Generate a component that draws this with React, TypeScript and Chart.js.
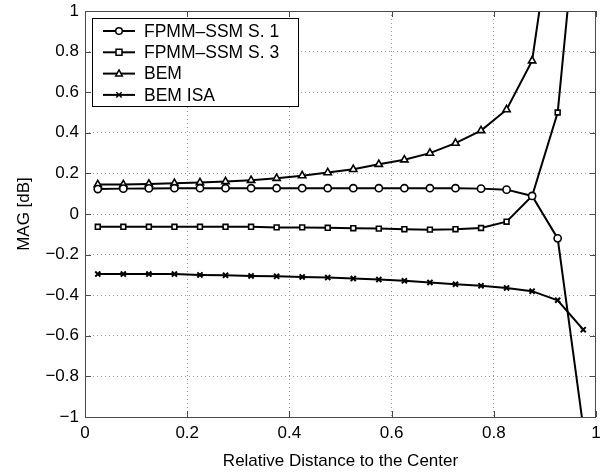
import React, { useEffect, useRef } from 'react';
import { Chart, registerables } from 'chart.js';

Chart.register(...registerables);

const xValues = [0.025, 0.075, 0.125, 0.175, 0.225, 0.275, 0.325, 0.375, 0.425, 0.475, 0.525, 0.575, 0.625, 0.675, 0.725, 0.775, 0.825, 0.875, 0.925, 0.975];

const fpmmS1 = [0.123, 0.125, 0.126, 0.127, 0.127, 0.127, 0.127, 0.127, 0.127, 0.127, 0.127, 0.127, 0.127, 0.127, 0.127, 0.125, 0.12, 0.089, -0.12, -1.05];
const fpmmS3 = [-0.063, -0.063, -0.063, -0.063, -0.063, -0.063, -0.063, -0.066, -0.066, -0.068, -0.07, -0.072, -0.075, -0.077, -0.075, -0.069, -0.038, 0.089, 0.5, 1.8];
const bem = [0.145, 0.145, 0.148, 0.151, 0.155, 0.16, 0.166, 0.176, 0.189, 0.204, 0.22, 0.245, 0.267, 0.3, 0.349, 0.411, 0.514, 0.755, 1.62, 3.0];
const bemIsa = [-0.296, -0.296, -0.296, -0.296, -0.3, -0.302, -0.305, -0.307, -0.31, -0.313, -0.318, -0.323, -0.329, -0.337, -0.346, -0.354, -0.364, -0.38, -0.425, -0.57];

const seriesLabels = ['FPMM\u2013SSM S. 1', 'FPMM\u2013SSM S. 3', 'BEM', 'BEM ISA'];
const xTitle = 'Relative Distance to the Center';
const yTitle = 'MAG [dB]';

const FONT = '"Liberation Sans", Arial, Helvetica, sans-serif';

function fmt(v: number): string {
  const r = Math.round(v * 10) / 10;
  const s = String(Math.abs(r) < 1e-9 ? 0 : r);
  return s.replace('-', '\u2212');
}

function drawMarker(ctx: CanvasRenderingContext2D, style: string, x: number, y: number, r: number) {
  ctx.beginPath();
  if (style === 'circle') {
    ctx.arc(x, y, r, 0, Math.PI * 2);
    ctx.fill();
    ctx.stroke();
  } else if (style === 'rect') {
    ctx.rect(x - r * 0.9, y - r * 0.9, r * 1.8, r * 1.8);
    ctx.fill();
    ctx.stroke();
  } else if (style === 'triangle') {
    ctx.moveTo(x, y - r * 1.1);
    ctx.lineTo(x + r, y + r * 0.7);
    ctx.lineTo(x - r, y + r * 0.7);
    ctx.closePath();
    ctx.fill();
    ctx.stroke();
  } else {
    const d = r * 0.8;
    ctx.moveTo(x - d, y - d);
    ctx.lineTo(x + d, y + d);
    ctx.moveTo(x + d, y - d);
    ctx.lineTo(x - d, y + d);
    ctx.stroke();
  }
}

const framePlugin = {
  id: 'frameAndLegend',
  afterDraw(chart: any) {
    const ctx: CanvasRenderingContext2D = chart.ctx;
    const { left, right, top, bottom } = chart.chartArea;
    const xs = chart.scales.x;
    const ys = chart.scales.y;
    ctx.save();
    // frame
    ctx.strokeStyle = '#4a4a4a';
    ctx.lineWidth = 1;
    ctx.strokeRect(Math.round(left) + 0.5, Math.round(top) + 0.5, Math.round(right - left) - 1, Math.round(bottom - top));
    // inner ticks
    const tl = 6;
    ctx.beginPath();
    xs.ticks.forEach((t: any) => {
      const px = Math.round(xs.getPixelForValue(t.value)) + 0.5;
      ctx.moveTo(px, bottom);
      ctx.lineTo(px, bottom - tl);
      ctx.moveTo(px, top);
      ctx.lineTo(px, top + tl);
    });
    ys.ticks.forEach((t: any) => {
      const py = Math.round(ys.getPixelForValue(t.value)) + 0.5;
      ctx.moveTo(left, py);
      ctx.lineTo(left + tl, py);
      ctx.moveTo(right, py);
      ctx.lineTo(right - tl, py);
    });
    ctx.stroke();

    // legend box
    const bx = 92.5, by = 18.5, bw = 206, bh = 88;
    ctx.fillStyle = '#fff';
    ctx.fillRect(bx, by, bw, bh);
    ctx.strokeStyle = '#000';
    ctx.lineWidth = 1;
    ctx.strokeRect(bx, by, bw, bh);
    const rowY0 = 31, rowStep = 21.3;
    ctx.font = `17.5px ${FONT}`;
    ctx.textBaseline = 'middle';
    ctx.textAlign = 'left';
    chart.data.datasets.forEach((ds: any, i: number) => {
      const y = rowY0 + i * rowStep;
      ctx.strokeStyle = '#000';
      ctx.lineWidth = 2;
      ctx.beginPath();
      ctx.moveTo(103, y);
      ctx.lineTo(135, y);
      ctx.stroke();
      ctx.fillStyle = '#fff';
      ctx.lineWidth = 1.5;
      drawMarker(ctx, ds.pointStyle, 119, y, 3.3);
      ctx.fillStyle = '#000';
      ctx.fillText(ds.label, 144, y + 1);
    });
    ctx.restore();
  },
};

export default function App() {
  const ref = useRef<HTMLCanvasElement>(null);

  useEffect(() => {
    if (!ref.current) return;
    const mk = (label: string, vals: number[], style: string, radius: number, pbw: number) => ({
      label,
      data: xValues.map((x, i) => ({ x, y: vals[i] })),
      borderColor: '#000',
      backgroundColor: '#fff',
      borderWidth: 2,
      pointStyle: style,
      pointRadius: radius,
      pointBorderWidth: pbw,
      pointBackgroundColor: '#fff',
      pointBorderColor: '#000',
      tension: 0,
      clip: 0,
    });
    const gridColor = (lo: number, hi: number) => (c: any) => {
      const v = c.tick ? c.tick.value : 0;
      return v <= lo + 1e-6 || v >= hi - 1e-6 ? 'rgba(0,0,0,0)' : '#9a9a9a';
    };
    const chart = new Chart(ref.current, {
      type: 'line',
      data: {
        datasets: [
          mk(seriesLabels[0], fpmmS1, 'circle', 3.6, 1.6),
          mk(seriesLabels[1], fpmmS3, 'rect', 3.4, 1.6),
          mk(seriesLabels[2], bem, 'triangle', 4.2, 1.6),
          mk(seriesLabels[3], bemIsa, 'crossRot', 3.6, 2),
        ] as any,
      },
      options: {
        animation: false,
        responsive: true,
        maintainAspectRatio: false,
        layout: { padding: { top: 11, right: 1, left: 0, bottom: 0 } },
        plugins: { legend: { display: false }, tooltip: { enabled: false } },
        scales: {
          x: {
            type: 'linear',
            min: 0,
            max: 1,
            ticks: {
              stepSize: 0.2,
              color: '#000',
              font: { family: FONT, size: 17 },
              padding: 6,
              maxRotation: 0,
              callback: (v: any) => fmt(Number(v)),
            },
            grid: { color: gridColor(0, 1), drawTicks: false, lineWidth: 1 },
            border: { display: false, dash: [1, 3] },
            title: {
              display: true,
              text: xTitle,
              color: '#000',
              font: { family: FONT, size: 17 },
              padding: { top: 0, bottom: 2 },
            },
            afterFit: (s: any) => {
              s.height = 57;
              s.paddingLeft = 0;
              s.paddingRight = 0;
            },
          },
          y: {
            type: 'linear',
            min: -1,
            max: 1,
            ticks: {
              stepSize: 0.2,
              color: '#000',
              font: { family: FONT, size: 17 },
              padding: 6,
              callback: (v: any) => fmt(Number(v)),
            },
            grid: { color: gridColor(-1, 1), drawTicks: false, lineWidth: 1 },
            border: { display: false, dash: [1, 3] },
            title: {
              display: true,
              text: yTitle,
              color: '#000',
              font: { family: FONT, size: 17 },
              padding: { top: 14, bottom: 0 },
            },
            afterFit: (s: any) => {
              s.width = 85;
              s.paddingTop = 0;
              s.paddingBottom = 0;
            },
          },
        },
      },
      plugins: [framePlugin],
    });
    return () => chart.destroy();
  }, []);

  return (
    <div style={{ position: 'fixed', left: 0, top: 0, width: 602, height: 474, background: '#fff' }}>
      <canvas ref={ref} />
    </div>
  );
}
